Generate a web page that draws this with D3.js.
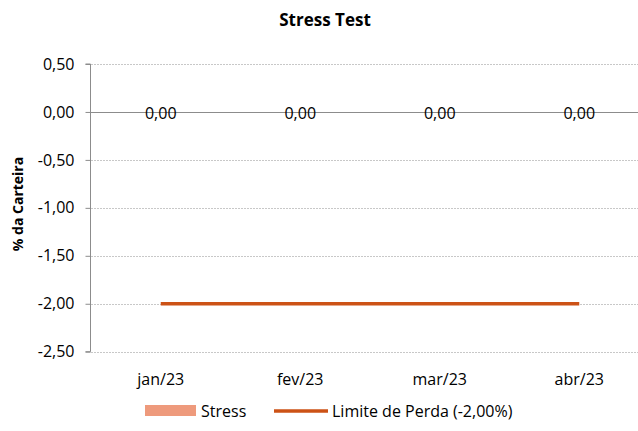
<!DOCTYPE html>
<html lang="pt">
<head>
    <meta charset="UTF-8">
    <style>
        body { margin: 0; background: #fff; }
        svg { display: block; font-family: "Open Sans", Lato, sans-serif; }
    </style>
</head>
<body>
    <script src="https://cdn.jsdelivr.net/npm/d3@7"></script>
    <div id="here"></div>

    <script>
        // data
        const months = ["jan/23", "fev/23", "mar/23", "abr/23"];
        const stress = [0, 0, 0, 0];
        const limite = [-2, -2, -2, -2];
        const yTicks = [0.5, 0, -0.5, -1, -1.5, -2, -2.5];

        const fmt = v => d3.format(".2f")(v).replace(".", ",").replace("−", "-");

        const W = 638, H = 431;
        const plot = { left: 91, right: 649, top: 64, bottom: 351.7 };
        const fs = "16px";

        const svg = d3.select("#here")
            .append("svg")
                .attr("width", W)
                .attr("height", H);

        const x = d3.scaleBand()
            .domain(months)
            .range([plot.left, plot.right])
            .padding(0);

        const y = d3.scaleLinear()
            .domain([-2.5, 0.5])
            .range([plot.bottom, plot.top]);

        // title
        svg.append("text")
            .attr("x", 325).attr("y", 26)
            .attr("text-anchor", "middle")
            .style("font-size", "17px")
            .style("font-weight", "bold")
            .text("Stress Test");

        // gridlines (dotted)
        svg.append("g")
            .selectAll("line")
            .data(yTicks.filter(d => d !== 0))
            .join("line")
                .attr("x1", plot.left).attr("x2", W)
                .attr("y1", d => Math.round(y(d)) + 0.5)
                .attr("y2", d => Math.round(y(d)) + 0.5)
                .attr("stroke", "#c8c8c8")
                .attr("stroke-dasharray", "2,1");

        // y axis
        const yAxis = svg.append("g")
            .attr("transform", `translate(${plot.left - 0.5},0)`)
            .call(d3.axisLeft(y).tickValues(yTicks).tickSize(5).tickPadding(11).tickFormat(fmt));
        yAxis.select(".domain").attr("stroke", "#8c8c8c").attr("d", `M-5,${plot.top}H0V${plot.bottom}H-5`);
        yAxis.selectAll(".tick line").attr("stroke", "#8c8c8c");
        yAxis.selectAll("text")
            .style("font-family", "'Open Sans', Lato, sans-serif")
            .style("font-size", fs)
            .attr("fill", "#000");

        // zero line
        svg.append("line")
            .attr("x1", plot.left).attr("x2", W)
            .attr("y1", Math.round(y(0)) + 0.5).attr("y2", Math.round(y(0)) + 0.5)
            .attr("stroke", "#8c8c8c");

        // y title
        svg.append("text")
            .attr("transform", "translate(23,204) rotate(-90)")
            .attr("text-anchor", "middle")
            .style("font-size", "14px")
            .style("font-weight", "bold")
            .text("% da Carteira");

        // x labels
        svg.append("g")
            .selectAll("text")
            .data(months)
            .join("text")
                .attr("x", d => x(d) + x.bandwidth() / 2)
                .attr("y", 385)
                .attr("text-anchor", "middle")
                .style("font-size", fs)
                .text(d => d);

        // stress bars (zero height)
        svg.append("g")
            .selectAll("rect")
            .data(stress)
            .join("rect")
                .attr("x", (d, i) => x(months[i]) + x.bandwidth() * 0.25)
                .attr("width", x.bandwidth() * 0.5)
                .attr("y", d => Math.min(y(d), y(0)))
                .attr("height", d => Math.abs(y(d) - y(0)))
                .attr("fill", "#ee9a7c");

        // limit line
        const line = d3.line()
            .x((d, i) => x(months[i]) + x.bandwidth() / 2)
            .y(d => y(d));
        svg.append("path")
            .datum(limite)
            .attr("d", line)
            .attr("fill", "none")
            .attr("stroke", "#cc5216")
            .attr("stroke-width", 3.3);

        // data labels
        svg.append("g")
            .selectAll("text")
            .data(stress)
            .join("text")
                .attr("x", (d, i) => x(months[i]) + x.bandwidth() / 2)
                .attr("y", d => y(d) + 7)
                .attr("text-anchor", "middle")
                .style("font-size", fs)
                .text(d => fmt(d));

        // legend
        const lg = svg.append("g").attr("transform", "translate(0,411)");
        lg.append("rect")
            .attr("x", 145).attr("y", -6).attr("width", 51).attr("height", 11)
            .attr("fill", "#ee9a7c");
        lg.append("text")
            .attr("x", 201).attr("y", 5.5)
            .style("font-size", fs)
            .text("Stress");
        lg.append("line")
            .attr("x1", 274).attr("x2", 328).attr("y1", 0).attr("y2", 0)
            .attr("stroke", "#cc5216").attr("stroke-width", 3.3);
        lg.append("text")
            .attr("x", 332).attr("y", 5.5)
            .style("font-size", fs)
            .text("Limite de Perda (-2,00%)");
    </script>
</body>
</html>
